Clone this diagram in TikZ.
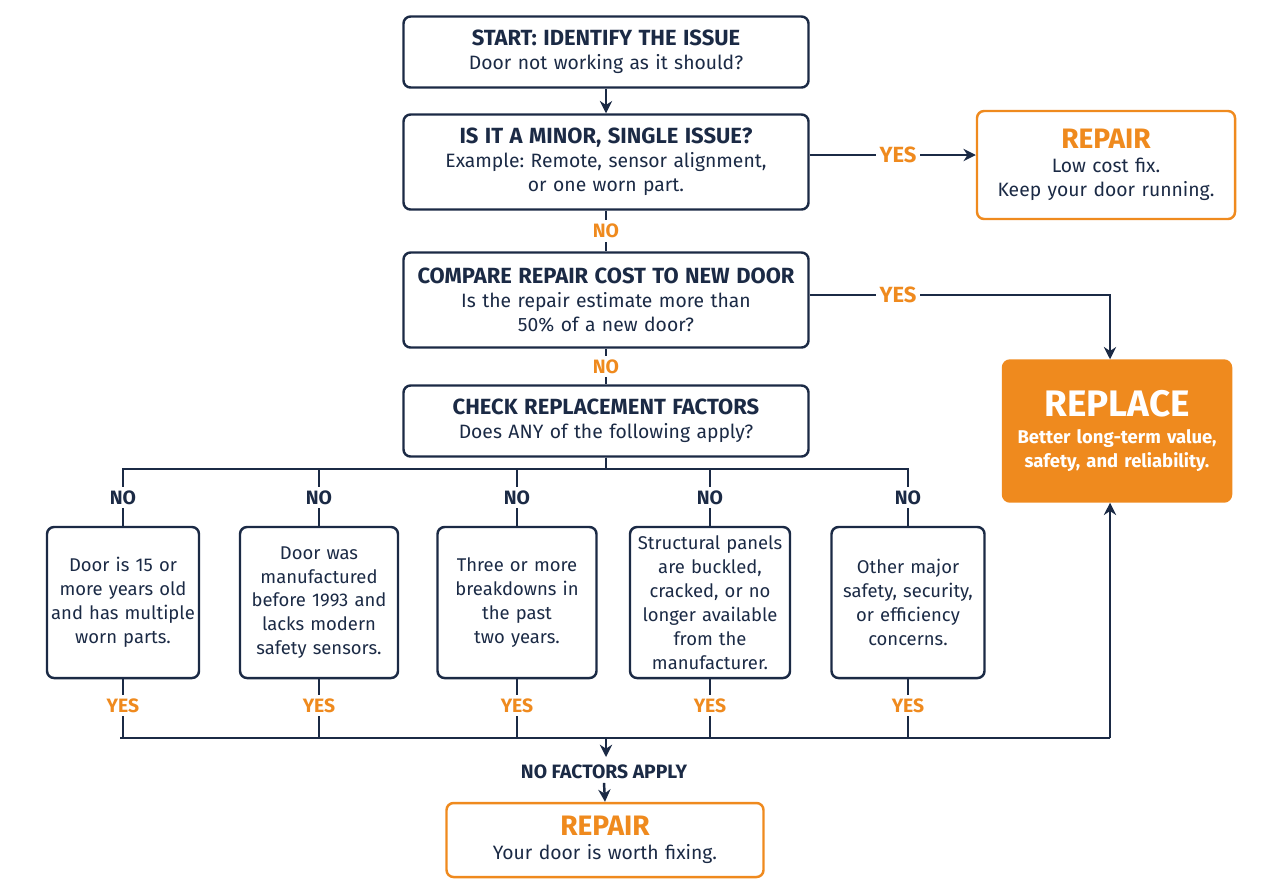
\documentclass[tikz,border=0pt]{standalone}
\usepackage{fontspec}
\setmainfont{Fira Sans}
\frenchspacing
\usetikzlibrary{arrows.meta,positioning}
\definecolor{navy}{HTML}{1B2A45}
\definecolor{orng}{HTML}{EF8A1E}
\newcommand\ttlfont{\bfseries\fontsize{12.5}{15}\selectfont}
\tikzset{
  box/.style={draw=navy,line width=1.4pt,rounded corners=4pt,align=center,text=navy,
    font=\fontsize{11}{13.6}\selectfont,inner sep=0pt},
  obox/.style={box,draw=orng},
  fbox/.style={box,fill=orng,draw=orng,text=white},
  lbl/.style={font=\bfseries\fontsize{11}{13}\selectfont,fill=white,inner sep=2pt},
  yes/.style={lbl,text=orng},
  no/.style={lbl,text=navy},
  ln/.style={draw=navy,line width=1.4pt},
  arr/.style={ln,-{Stealth[length=7pt,width=7pt]}}
}
\begin{document}
\begin{tikzpicture}[x=0.02cm,y=-0.02cm]
  \useasboundingbox (0,0) rectangle (1280,894);
  % main column
  \node[box,text width=405*0.02cm,minimum height=71*0.02cm] (start) at (606,52)
    {{\ttlfont START: IDENTIFY THE ISSUE}\\Door not working as it should?};
  \node[box,text width=405*0.02cm,minimum height=95*0.02cm] (minor) at (606,162)
    {{\ttlfont IS IT A MINOR, SINGLE ISSUE?}\\Example: Remote, sensor alignment,\\or one worn part.};
  \node[box,text width=405*0.02cm,minimum height=95*0.02cm] (cmp) at (606,300)
    {{\ttlfont COMPARE REPAIR COST TO NEW DOOR}\\Is the repair estimate more than\\50\% of a new door?};
  \node[box,text width=405*0.02cm,minimum height=71*0.02cm] (check) at (606,421)
    {{\ttlfont CHECK REPLACEMENT FACTORS}\\Does ANY of the following apply?};
  % outcomes
  \node[obox,text width=258*0.02cm,minimum height=108*0.02cm] (rep1) at (1106,165)
    {{\color{orng}\bfseries\fontsize{16}{19}\selectfont REPAIR}\\Low cost fix.\\Keep your door running.};
  \node[fbox,text width=228*0.02cm,minimum height=141*0.02cm,font=\bfseries\fontsize{10.5}{13.6}\selectfont] (replace) at (1117,431)
    {{\fontsize{21}{25}\selectfont REPLACE}\\[2pt]Better long-term value,\\safety, and reliability.};
  \node[obox,text width=317*0.02cm,minimum height=74*0.02cm] (rep2) at (605,840)
    {{\color{orng}\bfseries\fontsize{16}{19}\selectfont REPAIR}\\Your door is worth fixing.};
  % factor boxes
  \foreach \n/\x/\w/\t in {
    fa/123/152/{Door is 15 or\\more years old\\and has multiple\\worn parts.},
    fb/319/158/{Door was\\manufactured\\before 1993 and\\lacks modern\\safety sensors.},
    fc/517/159/{Three or more\\breakdowns in\\the past\\two years.},
    fd/710/160/{Structural panels\\are buckled,\\cracked, or no\\longer available\\from the\\manufacturer.},
    fe/908/153/{Other major\\safety, security,\\or efficiency\\concerns.}}{
    \node[box,text width=\w*0.02cm,minimum height=151*0.02cm,font=\fontsize{10.5}{13.6}\selectfont] (\n) at (\x,602.5) {\t};
    \draw[ln] (check.south) |- (\x,469) -- (\n.north) node[no,pos=0.5] {NO};
    \draw[ln] (\n.south) -- (\x,738) node[yes,pos=0.45] {YES};
  }
  \coordinate (busl) at (120,738);
  \coordinate (busr) at (1110,738);
  \coordinate (busm) at (606,738);
  \coordinate (yes1) at (898,155);
  \coordinate (yes2) at (898,295);
  \draw[ln] (busl) -- (busr);
  \draw[arr] (busr) -- (replace.south -| busr);
  \draw[arr] (busm) -- (606,757);
  \node[no] (nofac) at (604,772) {NO FACTORS APPLY};
  \draw[arr] (nofac.south) -- (rep2.north);
  % main flow
  \draw[arr] (start) -- (minor);
  \draw[ln] (minor) -- (cmp) node[yes,midway] {NO};
  \draw[ln] (cmp) -- (check) node[yes,midway] {NO};
  \draw[arr] (minor.east |- yes1) -- (yes1) node[yes,font=\ttlfont] {YES} -- (rep1.west |- yes1);
  \draw[arr] (cmp.east |- yes2) -- (yes2) node[yes,font=\ttlfont] {YES} -| (replace.north -| busr);
\end{tikzpicture}
\end{document}
